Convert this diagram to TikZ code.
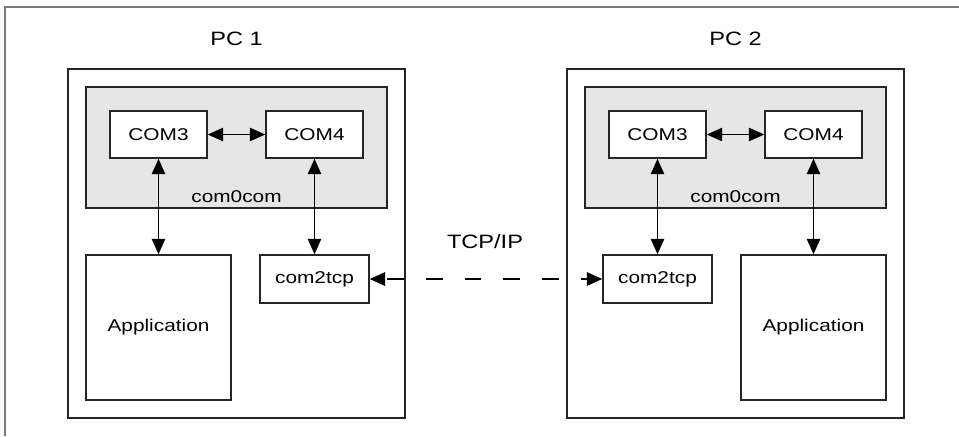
\documentclass[tikz,border=0pt]{standalone}
\usepackage{fontspec}
\setmainfont{Liberation Sans}[FakeStretch=1.22]
\usetikzlibrary{arrows.meta}
\definecolor{cBOX}{HTML}{E6E6E6}
\definecolor{cFRM}{HTML}{7A7A7A}

\begin{document}
\begin{tikzpicture}[x=0.75pt, y=-0.75pt, font=\fontsize{12.8}{15}\selectfont,
  >={Triangle[length=11.5pt, width=10pt]},
  box/.style={draw=black!85, line width=1.1pt, inner sep=0pt},
  port/.style={box, fill=white, minimum width=72.75pt, minimum height=35.25pt},
  link/.style={<->, line width=0.9pt}]
\useasboundingbox (0,0) rectangle (959,436);
\draw[cFRM, line width=1.2pt] (5,436) -- (5,7) -- (959,7);
\foreach \p/\x in {1/0, 2/499} {
  \node[box, minimum width=252.75pt, minimum height=261.75pt] (pc\p) at (\x+236.5,243.5) {};
  \node[font=\fontsize{14.5}{17}\selectfont] (lbl\p) at (\x+236.5,39) {PC \p};
  \node[box, fill=cBOX, minimum width=225.75pt, minimum height=90.75pt] (cc\p) at (\x+236.5,147.5) {};
  \node (cct\p) at (\x+236.5,197) {com0com};
  \node[port] (ca\p) at (\x+158.5,134.5) {COM3};
  \node[port] (cb\p) at (\x+314.5,134.5) {COM4};
  \draw[link] (ca\p) -- (cb\p);
}
\node[box, minimum width=81.75pt, minimum height=36pt] (tcp1) at (314.5,279) {com2tcp};
\node[box, minimum size=108.75pt] (app1) at (158.5,327.5) {Application};
\node[box, minimum width=81.75pt, minimum height=36pt] (tcp2) at (657.5,279) {com2tcp};
\node[box, minimum size=108.75pt] (app2) at (813.5,327.5) {Application};
\draw[link] (ca1) -- (app1);
\draw[link] (cb1) -- (tcp1);
\draw[link] (ca2) -- (tcp2);
\draw[link] (cb2) -- (app2);
\draw[<->, line width=1.5pt, dash pattern=on 12.5pt off 16.5pt, dash phase=-2pt] (tcp1) -- (tcp2);
\node[font=\fontsize{14.5}{17}\selectfont] (net) at (485,242) {TCP/IP};
\end{tikzpicture}
\end{document}
